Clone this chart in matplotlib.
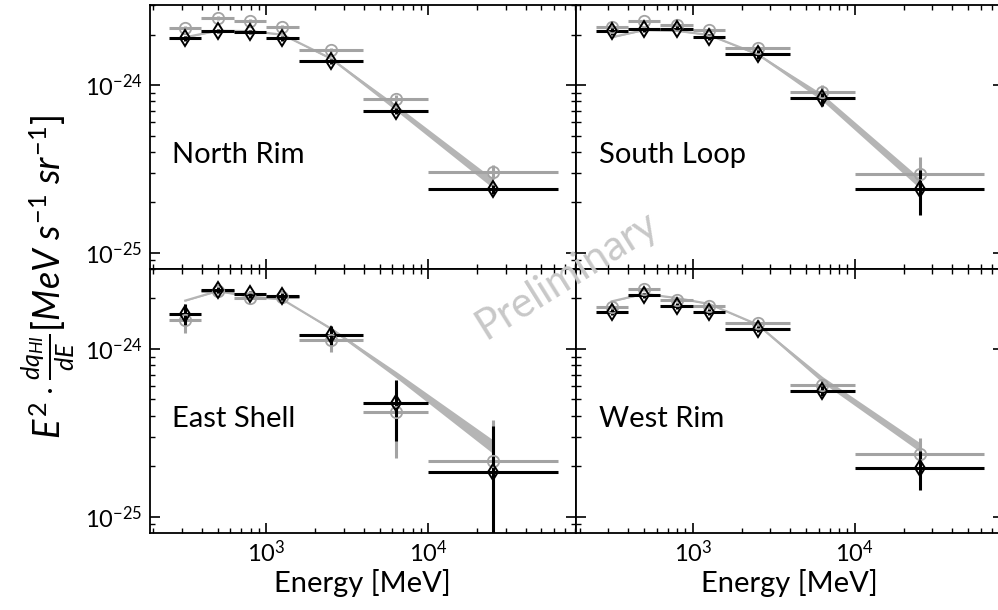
import numpy as np
import matplotlib
matplotlib.use('Agg')
import matplotlib.pyplot as plt
from matplotlib.ticker import FixedLocator, LogLocator, NullFormatter

plt.rcParams['font.family'] = ['Lato', 'DejaVu Sans']
plt.rcParams['mathtext.fontset'] = 'custom'
plt.rcParams['mathtext.rm'] = 'Lato'
plt.rcParams['mathtext.it'] = 'Lato:italic'
plt.rcParams['mathtext.bf'] = 'Lato:bold'

# ---------------- data (flux values in units of 1e-24 MeV s^-1 sr^-1) ----------------
UNIT = 1e-24
energy_center = [316, 500, 794, 1259, 2512, 6310, 25119]
energy_low = [251, 398, 631, 1000, 1585, 3981, 10000]
energy_high = [398, 631, 1000, 1585, 3981, 10000, 63096]
x_major_ticks = [1e3, 1e4]
y_major_ticks = [1e-25, 1e-24]

region_names = ['North Rim', 'South Loop', 'East Shell', 'West Rim']

# black diamonds
black_north = [1.90, 2.11, 2.08, 1.90, 1.386, 0.705, 0.240]
black_north_dn = [0.06, 0.06, 0.06, 0.06, 0.05, 0.03, 0.015]
black_north_up = [0.06, 0.06, 0.06, 0.06, 0.05, 0.03, 0.015]
black_south = [2.09, 2.15, 2.17, 1.95, 1.54, 0.835, 0.240]
black_south_dn = [0.09, 0.08, 0.08, 0.08, 0.10, 0.08, 0.073]
black_south_up = [0.09, 0.08, 0.08, 0.08, 0.08, 0.06, 0.070]
black_east = [1.617, 2.258, 2.11, 2.06, 1.205, 0.477, 0.185]
black_east_dn = [0.253, 0.09, 0.09, 0.09, 0.144, 0.193, 0.13]
black_east_up = [0.238, 0.09, 0.09, 0.09, 0.159, 0.179, 0.161]
black_west = [1.669, 2.087, 1.795, 1.653, 1.316, 0.564, 0.196]
black_west_dn = [0.07, 0.07, 0.07, 0.07, 0.06, 0.04, 0.051]
black_west_up = [0.07, 0.07, 0.07, 0.07, 0.06, 0.04, 0.049]

# grey circles
grey_north = [2.19, 2.51, 2.42, 2.23, 1.62, 0.828, 0.304]
grey_north_dn = [0.06, 0.06, 0.06, 0.06, 0.05, 0.04, 0.028]
grey_north_up = [0.06, 0.06, 0.06, 0.06, 0.05, 0.04, 0.028]
grey_south = [2.21, 2.40, 2.29, 2.13, 1.66, 0.915, 0.294]
grey_south_dn = [0.06, 0.06, 0.06, 0.06, 0.06, 0.07, 0.06]
grey_south_up = [0.06, 0.06, 0.06, 0.06, 0.06, 0.08, 0.078]
grey_east = [1.495, 2.21, 2.01, 2.03, 1.136, 0.419, 0.214]
grey_east_dn = [0.249, 0.08, 0.08, 0.08, 0.176, 0.195, 0.11]
grey_east_up = [0.15, 0.08, 0.08, 0.08, 0.134, 0.13, 0.165]
grey_west = [1.78, 2.28, 1.968, 1.795, 1.429, 0.612, 0.238]
grey_west_dn = [0.06, 0.06, 0.06, 0.06, 0.05, 0.05, 0.045]
grey_west_up = [0.06, 0.06, 0.06, 0.06, 0.05, 0.05, 0.056]

# model curve with its uncertainty band
model_north = [1.93, 2.11, 2.10, 2.00, 1.44, 0.735, 0.259]
model_north_lo = [1.92, 2.10, 2.09, 1.99, 1.42, 0.705, 0.243]
model_north_hi = [1.94, 2.12, 2.11, 2.01, 1.46, 0.765, 0.277]
model_south = [1.93, 2.13, 2.11, 1.99, 1.53, 0.846, 0.261]
model_south_lo = [1.92, 2.12, 2.10, 1.98, 1.51, 0.805, 0.243]
model_south_hi = [1.94, 2.14, 2.12, 2.00, 1.55, 0.885, 0.280]
model_east = [1.94, 2.21, 2.05, 1.97, 1.32, 0.703, 0.260]
model_east_lo = [1.93, 2.20, 2.04, 1.96, 1.30, 0.675, 0.238]
model_east_hi = [1.95, 2.22, 2.06, 1.98, 1.34, 0.735, 0.287]
model_west = [1.92, 2.13, 2.01, 1.855, 1.396, 0.656, 0.260]
model_west_lo = [1.91, 2.12, 2.00, 1.845, 1.38, 0.63, 0.245]
model_west_hi = [1.93, 2.14, 2.02, 1.865, 1.41, 0.685, 0.277]

panels = [
    (region_names[0], black_north, black_north_dn, black_north_up, grey_north, grey_north_dn, grey_north_up,
     model_north, model_north_lo, model_north_hi),
    (region_names[1], black_south, black_south_dn, black_south_up, grey_south, grey_south_dn, grey_south_up,
     model_south, model_south_lo, model_south_hi),
    (region_names[2], black_east, black_east_dn, black_east_up, grey_east, grey_east_dn, grey_east_up,
     model_east, model_east_lo, model_east_hi),
    (region_names[3], black_west, black_west_dn, black_west_up, grey_west, grey_west_dn, grey_west_up,
     model_west, model_west_lo, model_west_hi),
]

# ---------------- figure ----------------
W, H = 998, 610
fig = plt.figure(figsize=(W / 100, H / 100), dpi=100)

left_x = 149.5 / W
right_x = 576 / W
ax_w = 426.5 / W
top_y = 1 - 268.7 / H
top_h = (268.7 - 5) / H
bot_y = 1 - 532.7 / H
bot_h = (532.7 - 268.7) / H
positions = [
    [left_x, top_y, ax_w, top_h],
    [right_x, top_y, ax_w, top_h],
    [left_x, bot_y, ax_w, bot_h],
    [right_x, bot_y, ax_w, bot_h],
]

E = np.array(energy_center, float)
xerr = [E - np.array(energy_low), np.array(energy_high) - E]

BLACK = 'black'
GREY = '#a3a3a3'
MODEL = '#b5b5b5'

for i, (name, bk, bkd, bku, gr, grd, gru, mo, mol, moh) in enumerate(panels):
    ax = fig.add_axes(positions[i])
    ax.set_xscale('log')
    ax.set_yscale('log')

    ax.fill_between(E, np.array(mol) * UNIT, np.array(moh) * UNIT, color=MODEL, lw=0, zorder=1)
    ax.plot(E, np.array(mo) * UNIT, color=MODEL, lw=1.6, zorder=1)

    ax.errorbar(E, np.array(gr) * UNIT, xerr=xerr,
                yerr=[np.array(grd) * UNIT, np.array(gru) * UNIT],
                fmt='none', ecolor=GREY, elinewidth=2.2, capsize=0, zorder=2)
    ax.errorbar(E, np.array(bk) * UNIT, xerr=xerr,
                yerr=[np.array(bkd) * UNIT, np.array(bku) * UNIT],
                fmt='none', ecolor=BLACK, elinewidth=2.2, capsize=0, zorder=3)
    ax.plot(E, np.array(gr) * UNIT, 'o', ms=8.2, mfc='none', mec=GREY, mew=1.3, zorder=4)
    ax.plot(E, np.array(bk) * UNIT, 'd', ms=8.5, mfc='none', mec=BLACK, mew=1.4, zorder=5)

    ax.set_xlim(10 ** 2.279, 10 ** 4.912)
    ax.set_ylim(10 ** -25.095, 10 ** -23.522)

    ax.yaxis.set_major_locator(FixedLocator(y_major_ticks))
    ax.xaxis.set_major_locator(FixedLocator(x_major_ticks))
    ax.yaxis.set_minor_locator(LogLocator(base=10, subs=np.arange(2, 10), numticks=20))
    ax.xaxis.set_minor_locator(LogLocator(base=10, subs=np.arange(2, 10), numticks=20))
    ax.yaxis.set_minor_formatter(NullFormatter())
    ax.xaxis.set_minor_formatter(NullFormatter())

    ax.tick_params(which='both', direction='in', top=True, right=True, color='black')
    ax.tick_params(which='major', length=7, width=1.2, labelsize=17, pad=5)
    ax.tick_params(which='minor', length=3.5, width=1.0)
    for s in ax.spines.values():
        s.set_linewidth(1.3)

    if i < 2:
        ax.tick_params(labelbottom=False)
    else:
        ax.set_xlabel('Energy [MeV]', fontsize=21, labelpad=2)
    if i % 2 == 1:
        ax.tick_params(labelleft=False)

    ax.text(0.053, 0.43, name, transform=ax.transAxes, fontsize=21, ha='left', va='center')

fig.text(0.048, 0.546, r'$E^2\cdot\frac{dq_{HI}}{dE}[MeV\ s^{-1}\ sr^{-1}]$',
         rotation=90, fontsize=26, ha='center', va='center')

fig.text(0.568, 0.549, 'Preliminary', rotation=32, fontsize=30, color='#c8c8c8',
         ha='center', va='center', rotation_mode='anchor', zorder=10)

fig.savefig('out.png', dpi=100)
